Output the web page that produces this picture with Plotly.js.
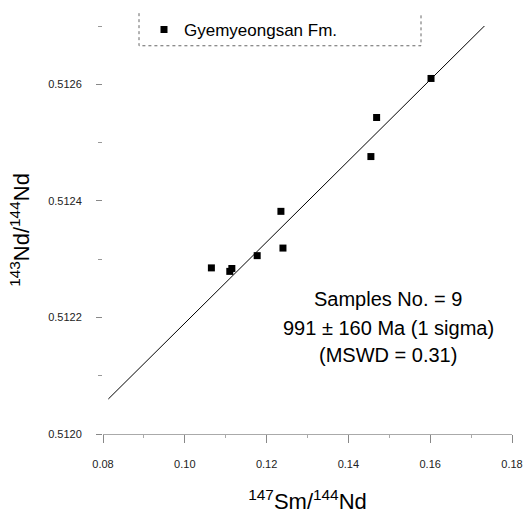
<!DOCTYPE html>
<html>
<head>
<meta charset="utf-8">
<script src="https://cdn.plot.ly/plotly-3.0.1.min.js"></script>
<style>html,body{margin:0;padding:0;background:#fff;}#chart{width:528px;height:514px;}</style>
</head>
<body>
<div id="chart"></div>
<script>
// Sample data (147Sm/144Nd vs 143Nd/144Nd), Gyemyeongsan Fm.
const seriesName = "Gyemyeongsan Fm.";
const smNd = [0.1602, 0.1469, 0.1455, 0.1235, 0.1240, 0.1177, 0.1115, 0.1110, 0.1065];
const ndNd = [0.512610, 0.512543, 0.512476, 0.512382, 0.512319, 0.512306, 0.512284, 0.512279, 0.512285];

// Isochron line end points
const isoX = [0.0813, 0.1734];
const isoY = [0.512060, 0.512701];

// Axis ticks
const xTickVals = [0.08, 0.10, 0.12, 0.14, 0.16, 0.18];
const xTickText = ["0.08", "0.10", "0.12", "0.14", "0.16", "0.18"];
const xMinorVals = [0.09, 0.11, 0.13, 0.15, 0.17];
const yTickVals = [0.5120, 0.5122, 0.5124, 0.5126];
const yTickText = ["0.5120", "0.5122", "0.5124", "0.5126"];
const yMinorVals = [0.5121, 0.5123, 0.5125, 0.5127];

// Annotation texts
const statsLines = ["Samples No. = 9", "991 \u00b1 160 Ma (1 sigma)", "(MSWD = 0.31)"];
const statsX = 0.1497;
const statsY = [0.512231, 0.512182, 0.512135];

const FONT = "Liberation Sans, Arial, sans-serif";

const traces = [
  {
    x: isoX, y: isoY, type: "scatter", mode: "lines",
    line: {color: "#000", width: 1}, showlegend: false, hoverinfo: "skip"
  },
  {
    x: smNd, y: ndNd, type: "scatter", mode: "markers", name: seriesName,
    marker: {symbol: "square", size: 7, color: "#000"}
  }
];

const annotations = statsLines.map((t, i) => ({
  x: statsX, y: statsY[i], xref: "x", yref: "y", text: t, showarrow: false,
  xanchor: "center", yanchor: "middle", font: {family: FONT, size: 20, color: "#000"}
}));

const px0 = 103, plotW = 409, plotBottom = 434, plotH = 413;
const bx0 = (139 - px0) / plotW, bx1 = (421 - px0) / plotW;
const by0 = (plotBottom - 8) / plotH, by1 = (plotBottom - 41) / plotH;

const layout = {
  width: 528, height: 514,
  margin: {l: 103, r: 16, t: 21, b: 80},
  paper_bgcolor: "#fff", plot_bgcolor: "#fff",
  font: {family: FONT, color: "#000"},
  showlegend: true,
  legend: {
    x: (144 - px0) / plotW, xanchor: "left",
    y: (plotBottom - 25) / plotH, yanchor: "middle",
    bgcolor: "rgba(0,0,0,0)", borderwidth: 0,
    font: {family: FONT, size: 17, color: "#000"}
  },
  shapes: [{
    type: "path", xref: "paper", yref: "paper",
    path: `M ${bx0},${by0} L ${bx0},${by1} L ${bx1},${by1} L ${bx1},${by0}`,
    line: {color: "#666", width: 1, dash: "dot"}
  }],
  xaxis: {
    range: [0.08, 0.18], autorange: false,
    tickmode: "array", tickvals: xTickVals, ticktext: xTickText,
    ticks: "outside", ticklen: 8, tickwidth: 1, tickcolor: "#888",
    ticklabelstandoff: 12,
    minor: {tickmode: "array", tickvals: xMinorVals, ticks: "outside", ticklen: 3, tickcolor: "#aaa"},
    showline: true, linecolor: "#aaa", linewidth: 1,
    showgrid: false, zeroline: false,
    tickfont: {family: FONT, size: 11, color: "#222"},
    title: {text: "<sup>147</sup>Sm/<sup>144</sup>Nd", font: {family: FONT, size: 22, color: "#000"}, standoff: 26},
    automargin: false
  },
  yaxis: {
    range: [0.5120, 0.5127], autorange: false,
    tickmode: "array", tickvals: yTickVals, ticktext: yTickText,
    ticks: "outside", ticklen: 6, tickwidth: 1, tickcolor: "#888",
    ticklabelstandoff: 12,
    minor: {tickmode: "array", tickvals: yMinorVals, ticks: "outside", ticklen: 4, tickcolor: "#999"},
    showline: false, showgrid: false, zeroline: false,
    tickfont: {family: FONT, size: 11, color: "#222"},
    title: {text: "<sup>143</sup>Nd/<sup>144</sup>Nd", font: {family: FONT, size: 22, color: "#000"}, standoff: 12},
    automargin: false
  },
  annotations: annotations
};

Plotly.newPlot("chart", traces, layout, {displayModeBar: false, staticPlot: true});
</script>
</body>
</html>
